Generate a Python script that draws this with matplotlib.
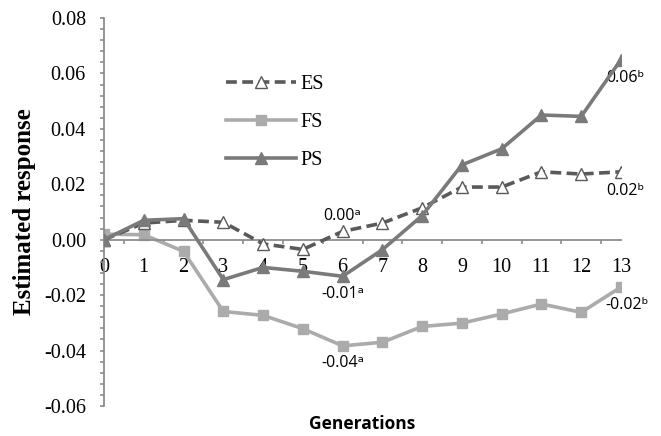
import matplotlib
matplotlib.use("Agg")
import matplotlib.pyplot as plt
from matplotlib.ticker import MultipleLocator, FixedLocator

generations = list(range(14))
es = [0.0, 0.006, 0.007, 0.0063, -0.0015, -0.0035, 0.003, 0.006, 0.0115, 0.019, 0.019, 0.0245, 0.0237, 0.0245]
fs = [0.002, 0.0018, -0.0042, -0.0259, -0.0273, -0.0321, -0.0383, -0.037, -0.0313, -0.0301, -0.0268, -0.0232, -0.0262, -0.0171]
ps = [0.0, 0.007, 0.0076, -0.0144, -0.010, -0.0114, -0.0132, -0.0036, 0.0087, 0.027, 0.0328, 0.045, 0.0445, 0.065]

annotations = [
    (6, 0.0085, "0.00\u1d43"),
    (6, -0.0195, "-0.01\u1d43"),
    (6, -0.0445, "-0.04\u1d43"),
    (13.12, 0.0585, "0.06\u1d47"),
    (13.1, 0.0175, "0.02\u1d47"),
    (13.15, -0.0235, "-0.02\u1d47"),
]

serif = ["Liberation Serif", "DejaVu Serif"]
sans = ["Open Sans", "DejaVu Sans"]

fig = plt.figure(figsize=(6.61, 4.36), dpi=100)
ax = fig.add_axes([104/661, 1-406/436, (621-104)/661, (406-18)/436])

axis_col = "#8c8c8c"
ax.plot(generations, es, color="#5a5a5a", lw=2.6, ls=(0, (3, 1.5)), marker="^",
        ms=8.5, mfc="white", mec="#5a5a5a", mew=1.0, label="ES", zorder=3)
ax.plot(generations, fs, color="#ababab", lw=2.6, marker="s", ms=7.5,
        mfc="#ababab", mec="#ababab", label="FS", zorder=2)
ax.plot(generations, ps, color="#7a7a7a", lw=2.6, marker="^", ms=9,
        mfc="#7a7a7a", mec="#7a7a7a", label="PS", zorder=4)

ax.set_xlim(0, 13)
ax.set_ylim(-0.06, 0.08)
for s in ["top", "right"]:
    ax.spines[s].set_visible(False)
ax.spines["bottom"].set_position(("data", 0))
for s in ["left", "bottom"]:
    ax.spines[s].set_color(axis_col)
    ax.spines[s].set_linewidth(1.3)

ax.xaxis.set_major_locator(FixedLocator(generations))
ax.xaxis.set_minor_locator(FixedLocator([g + 0.5 for g in generations[:-1]] + [13]))
ax.set_xticklabels([str(g) for g in generations], fontfamily=serif, fontsize=14.5)
ax.tick_params(axis="x", which="major", length=0, pad=13)
ax.tick_params(axis="x", which="minor", length=3, color=axis_col, width=1.2)

ax.yaxis.set_major_locator(MultipleLocator(0.02))
ax.yaxis.set_minor_locator(MultipleLocator(0.004))
ax.set_yticks(ax.get_yticks())
ax.set_yticklabels([f"{v:.2f}" for v in ax.get_yticks()], fontfamily=serif, fontsize=14.5)
ax.set_ylim(-0.06, 0.08)
ax.tick_params(axis="y", which="both", length=3, color=axis_col, width=1.2, pad=10)

ax.set_ylabel("Estimated response", fontfamily=serif, fontweight="bold", fontsize=18, labelpad=6)
ax.set_xlabel("Generations", fontfamily=sans, fontweight="bold", fontsize=12.5)
ax.xaxis.set_label_coords(0.5, -0.022)

for x, y, t in annotations:
    ax.text(x, y, t, ha="center", va="center", fontfamily=sans, fontsize=11.5)

leg = ax.legend(loc="upper left", bbox_to_anchor=(0.2, 0.9), frameon=False,
                prop={"family": serif, "size": 14.5}, handlelength=3.5,
                labelspacing=0.95, handletextpad=0.2)

fig.savefig("out.png", dpi=100)
